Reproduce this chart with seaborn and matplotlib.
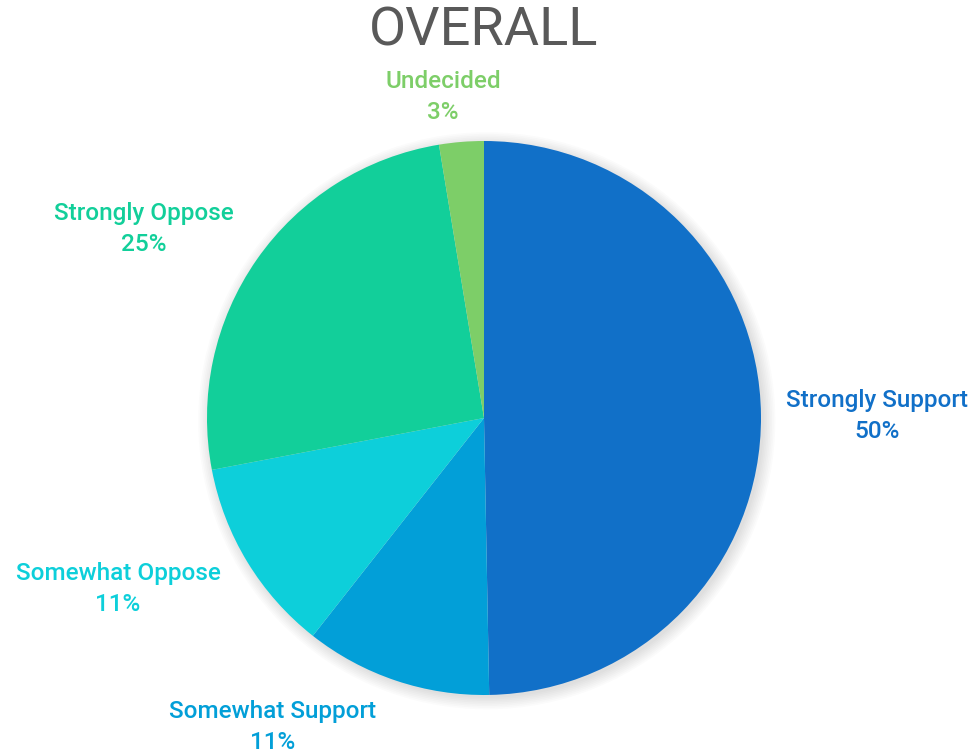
import matplotlib
matplotlib.use("Agg")
import matplotlib.pyplot as plt
import matplotlib.patches as mpatches
import seaborn as sns

categories = ["Strongly Support", "Somewhat Support", "Somewhat Oppose",
              "Strongly Oppose", "Undecided"]
shares = [49.7, 10.9, 11.4, 25.4, 2.6]
colors = ["#1170C8", "#029FD8", "#0DCFDA", "#12CF9A", "#7DCE68"]

# label centres in figure pixels (x, y from top)
label_pos = [(877, 416), (273, 727), (118, 589), (144, 229), (443, 97)]

sns.set_theme(style="white")
plt.rcParams["font.family"] = ["Roboto", "DejaVu Sans"]

W, H = 977, 752
fig = plt.figure(figsize=(W / 100, H / 100), dpi=100)

cx, cy, r = 484, 418, 277
ax = fig.add_axes([(cx - r) / W, (H - cy - r) / H, 2 * r / W, 2 * r / H])

# soft shadow
for i in range(8):
    ax.add_patch(mpatches.Circle((0.01, -0.01), 1.0 + 0.006 * i,
                                 color="black", alpha=0.016, lw=0, zorder=0,
                                 clip_on=False))

ax.pie(shares, colors=colors, startangle=90, counterclock=False,
       radius=1.0, wedgeprops=dict(linewidth=0, zorder=1))
ax.set_xlim(-1, 1)
ax.set_ylim(-1, 1)
ax.set_aspect("equal")
ax.axis("off")

for name, val, col, (px, py) in zip(categories, shares, colors, label_pos):
    fig.text(px / W, 1 - py / H, f"{name}\n{round(val)}%", color=col,
             fontsize=17.5, fontweight="medium", ha="center", va="center",
             linespacing=1.4)

fig.text(484 / W, 1 - 31 / H, "OVERALL", color="#595959", fontsize=39,
         ha="center", va="center")

fig.savefig("out.png", dpi=100)
